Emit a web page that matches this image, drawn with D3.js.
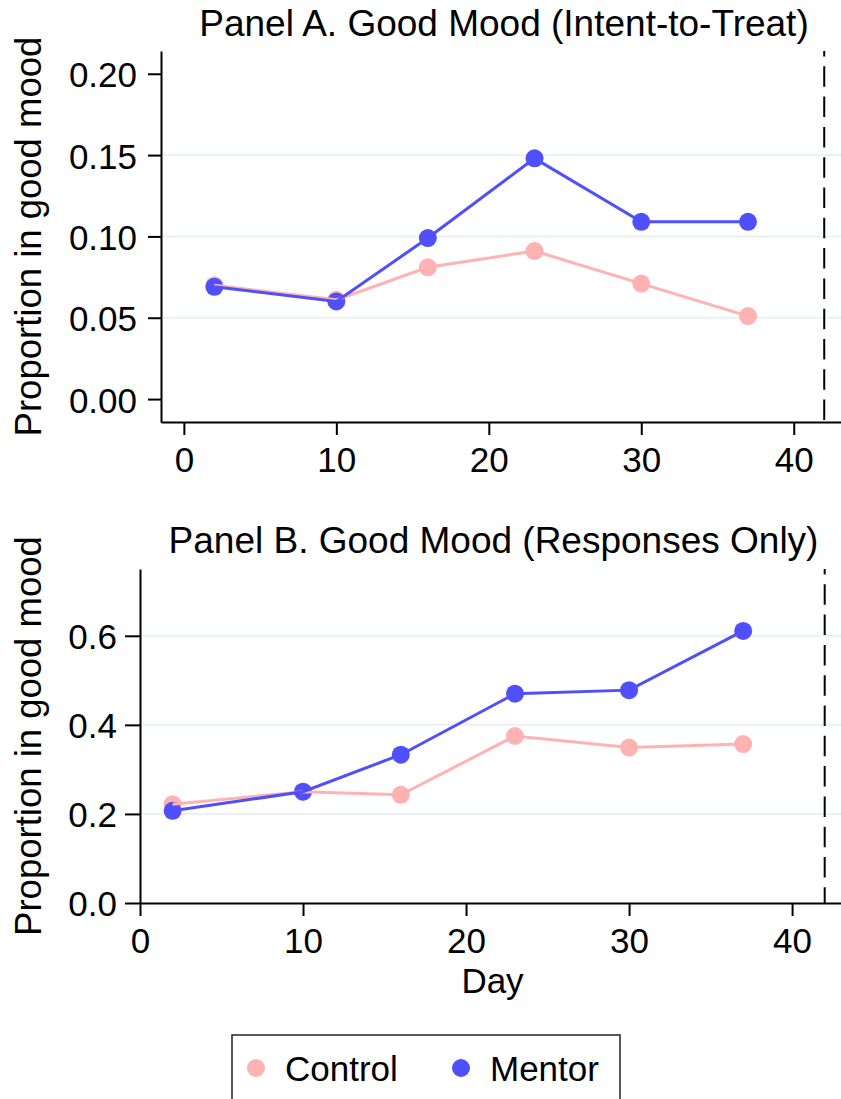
<!DOCTYPE html>
<html>
<head>
<meta charset="utf-8">
<script src="https://cdn.jsdelivr.net/npm/d3@7"></script>
<style>
    body { margin: 0; background: #fff; }
    text { font-family: "Liberation Sans", Arial, Helvetica, sans-serif; fill: #000; }
</style>
</head>
<body>
<script>
// survey days and proportions
let days = [2, 10, 16, 23, 30, 37];
let controlA = [0.070, 0.061, 0.081, 0.091, 0.071, 0.051];
let mentorA = [0.069, 0.060, 0.099, 0.148, 0.109, 0.109];
let controlB = [0.222, 0.250, 0.243, 0.375, 0.349, 0.357];
let mentorB = [0.207, 0.250, 0.333, 0.470, 0.478, 0.611];

let xTicks = [0, 10, 20, 30, 40];
let yTicksA = [0, 0.05, 0.10, 0.15, 0.20];
let yTicksB = [0, 0.2, 0.4, 0.6];
let gridA = [0.05, 0.10, 0.15];
let gridB = [0.2, 0.4, 0.6];
let cutoffDay = 42;

let titleA = "Panel A. Good Mood (Intent-to-Treat)";
let titleB = "Panel B. Good Mood (Responses Only)";
let yTitle = "Proportion in good mood";
let seriesNames = ["Control", "Mentor"];

let width = 841,
    height = 1099,
    colors = { Control: "#ffb2b2", Mentor: "#4f4ffb" },
    gridColor = "#eaf2f3",
    markerR = 9;

let svg = d3.select("body").append("svg")
    .attr("width", width)
    .attr("height", height)
    .attr("viewBox", `0 0 ${width} ${height}`);

function drawPanel(opt) {
    let x = d3.scaleLinear().domain(opt.xDomain).range([opt.left, width]);
    let y = d3.scaleLinear().domain(opt.yDomain).range([opt.bottom, opt.top]);
    let g = svg.append("g");

    // horizontal grid
    g.selectAll("line.grid")
        .data(opt.grid)
        .enter()
        .append("line")
        .attr("class", "grid")
        .attr("x1", opt.left)
        .attr("x2", width)
        .attr("y1", d => y(d))
        .attr("y2", d => y(d))
        .style("stroke", gridColor)
        .style("stroke-width", 2);

    // dashed line at end of program
    g.append("line")
        .attr("x1", x(cutoffDay))
        .attr("x2", x(cutoffDay))
        .attr("y1", opt.top)
        .attr("y2", opt.bottom)
        .style("stroke", "#000")
        .style("stroke-width", 2)
        .style("stroke-dasharray", "20.5,9.8")
        .style("stroke-dashoffset", 15);

    let yAxis = g.append("g")
        .attr("transform", `translate(${opt.left},0)`)
        .call(d3.axisLeft(y)
            .tickValues(opt.yTicks)
            .tickFormat(d3.format(opt.yFormat))
            .tickSize(opt.yTickSize)
            .tickSizeOuter(0)
            .tickPadding(opt.yPad));

    let xAxis = g.append("g")
        .attr("transform", `translate(0,${opt.bottom})`)
        .call(d3.axisBottom(x)
            .tickValues(xTicks)
            .tickSize(13)
            .tickSizeOuter(0)
            .tickPadding(12));

    [yAxis, xAxis].forEach(a => {
        a.select(".domain").style("stroke", "#000").style("stroke-width", 2);
        a.selectAll(".tick line").style("stroke", "#000").style("stroke-width", 2);
        a.selectAll(".tick text")
            .style("font-size", "35px")
            .style("font-family", "'Liberation Sans', Arial, sans-serif")
            .attr("fill", "#000");
    });
    yAxis.selectAll(".tick text").attr("dy", "0.37em");

    let line = d3.line()
        .x((d, i) => x(days[i]))
        .y(d => y(d));

    let series = [
        { name: "Control", values: opt.control },
        { name: "Mentor", values: opt.mentor }
    ];

    series.forEach(s => {
        g.selectAll("circle.m-" + s.name)
            .data(s.values)
            .enter()
            .append("circle")
            .attr("class", "m-" + s.name)
            .attr("cx", (d, i) => x(days[i]))
            .attr("cy", d => y(d))
            .attr("r", markerR)
            .style("fill", colors[s.name]);
    });

    series.forEach(s => {
        g.append("path")
            .datum(s.values)
            .attr("d", line)
            .style("fill", "none")
            .style("stroke", colors[s.name])
            .style("stroke-width", 3);
    });

    g.append("text")
        .attr("x", (opt.left + width) / 2 + 3)
        .attr("y", opt.titleY)
        .attr("text-anchor", "middle")
        .style("font-size", "37px")
        .text(opt.title);

    g.append("text")
        .attr("transform", `translate(41,${(opt.top + opt.bottom) / 2}) rotate(-90)`)
        .attr("text-anchor", "middle")
        .style("font-size", "36.5px")
        .text(yTitle);

    if (opt.xTitle) {
        g.append("text")
            .attr("x", (opt.left + width) / 2 + 2)
            .attr("y", opt.bottom + 90)
            .attr("text-anchor", "middle")
            .style("font-size", "35px")
            .text(opt.xTitle);
    }
}

drawPanel({
    title: titleA, titleY: 36,
    left: 161, top: 51, bottom: 422,
    xDomain: [-1.5, 43.1], yDomain: [-0.0141, 0.214],
    yTicks: yTicksA, yFormat: ".2f", grid: gridA,
    yTickSize: 13, yPad: 11,
    control: controlA, mentor: mentorA
});

drawPanel({
    title: titleB, titleY: 553,
    left: 140, top: 569, bottom: 903,
    xDomain: [0, 43], yDomain: [0, 0.75],
    yTicks: yTicksB, yFormat: ".1f", grid: gridB,
    yTickSize: 15, yPad: 8,
    control: controlB, mentor: mentorB,
    xTitle: "Day"
});

// legend
let legend = svg.append("g");
legend.append("rect")
    .attr("x", 232)
    .attr("y", 1035)
    .attr("width", 388)
    .attr("height", 90)
    .style("fill", "#fff")
    .style("stroke", "#222")
    .style("stroke-width", 1.5);

let legendX = [256, 461];
seriesNames.forEach((name, i) => {
    legend.append("circle")
        .attr("cx", legendX[i])
        .attr("cy", 1068)
        .attr("r", markerR)
        .style("fill", colors[name]);
    legend.append("text")
        .attr("x", legendX[i] + 29)
        .attr("y", 1081)
        .style("font-size", "35px")
        .text(name);
});
</script>
</body>
</html>
